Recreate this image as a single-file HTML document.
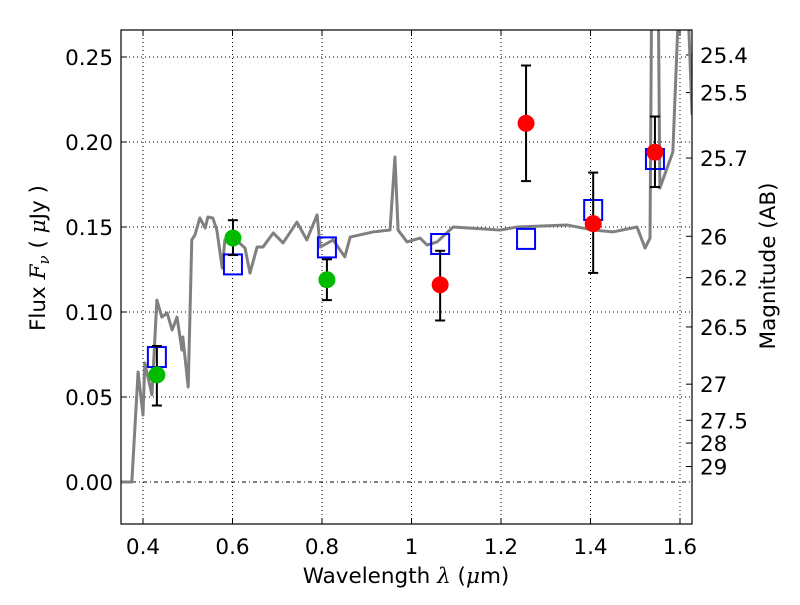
<!DOCTYPE html>
<html><head><meta charset="utf-8"><style>
body{margin:0;background:#fff}
svg text{font-family:"DejaVu Sans","Liberation Sans",sans-serif;fill:#000}
</style></head><body>
<svg id="c" width="800" height="600"></svg>
<script>
const specLam=[0.349,0.375,0.389,0.400,0.404,0.420,0.431,0.442,0.454,0.465,0.476,0.487,0.489,0.501,0.509,0.516,0.527,0.539,0.545,0.556,0.565,0.577,0.583,0.601,0.628,0.639,0.655,0.668,0.691,0.713,0.744,0.766,0.789,0.796,0.825,0.851,0.863,0.914,0.952,0.963,0.970,0.990,1.019,1.035,1.057,1.093,1.198,1.236,1.347,1.406,1.450,1.504,1.522,1.533,1.537,1.551,1.555,1.584,1.600,1.615,1.627];
const specFlux=[0,0,0.0647,0.0394,0.070,0.0512,0.107,0.097,0.0994,0.0894,0.097,0.0776,0.0853,0.0559,0.1424,0.1453,0.1553,0.1494,0.1559,0.1553,0.1482,0.1259,0.1424,0.1441,0.1376,0.1229,0.1382,0.1382,0.1465,0.1406,0.1529,0.1424,0.1571,0.1382,0.1424,0.1324,0.1441,0.1471,0.1482,0.1912,0.1482,0.1412,0.1435,0.1394,0.1412,0.15,0.1482,0.15,0.1512,0.1482,0.1471,0.15,0.1376,0.1435,0.30,0.30,0.1729,0.1941,0.30,0.30,0.2159];
const greenLam=[0.431,0.601,0.811];
const greenFlux=[0.063,0.1435,0.119];
const greenHi=[0.080,0.154,0.131];
const greenLo=[0.045,0.1335,0.107];
const redLam=[1.064,1.256,1.406,1.544];
const redFlux=[0.116,0.211,0.152,0.194];
const redHi=[0.136,0.245,0.182,0.215];
const redLo=[0.095,0.177,0.123,0.1735];
const modelLam=[0.431,0.601,0.811,1.064,1.256,1.406,1.544];
const modelFlux=[0.0735,0.128,0.138,0.140,0.143,0.160,0.190];
const xTicks=[0.4,0.6,0.8,1.0,1.2,1.4,1.6];
const xTickLabels=["0.4","0.6","0.8","1","1.2","1.4","1.6"];
const yTicks=[0,0.05,0.10,0.15,0.20,0.25];
const yTickLabels=["0.00","0.05","0.10","0.15","0.20","0.25"];
const magTicks=[25.4,25.5,25.7,26,26.2,26.5,27,27.5,28,29];
const magLabels=["25.4","25.5","25.7","26","26.2","26.5","27","27.5","28","29"];

const L=121,R=692,T=30,B=524;
const X=v=>143+(v-0.4)*447.5;
const Y=v=>482-v*1700;
const svg=document.getElementById('c');
const NS='http://www.w3.org/2000/svg';
function mk(tag,a,parent){const e=document.createElementNS(NS,tag);for(const k in a)e.setAttribute(k,a[k]);(parent||svg).appendChild(e);return e;}
const defs=mk('defs',{});
const cp=mk('clipPath',{id:'clip'},defs);
mk('rect',{x:L,y:T,width:R-L,height:B-T},cp);

xTicks.forEach((t,i)=>{
  const g=mk('line',{x1:X(t),x2:X(t),y1:T,y2:B,stroke:'#000','stroke-width':1,'stroke-dasharray':'1,3'});
  
  
  mk('line',{x1:X(t),x2:X(t),y1:B,y2:B-6,stroke:'#000'});
  mk('line',{x1:X(t),x2:X(t),y1:T,y2:T+6,stroke:'#000'});
  const tx=mk('text',{x:X(t),y:B+30,'text-anchor':'middle','font-size':21.5});
  tx.textContent=xTickLabels[i];
  
  
});
yTicks.forEach((t,i)=>{
  const g=mk('line',{x1:L,x2:R,y1:Y(t),y2:Y(t),stroke:'#000','stroke-width':1,'stroke-dasharray':t===0?'4,3,1,3':'1,3'});
  
  
  mk('line',{x1:L,x2:L+6,y1:Y(t),y2:Y(t),stroke:'#000'});
  const tx=mk('text',{x:L-8,y:Y(t)+8,'text-anchor':'end','font-size':21.5});
  tx.textContent=yTickLabels[i];
  
  
});
magTicks.forEach((m,i)=>{
  const f=Math.pow(10,(23.9-m)/2.5);
  mk('line',{x1:R,x2:R-6,y1:Y(f),y2:Y(f),stroke:'#000'});
  const tx=mk('text',{x:R+8,y:Y(f)+8,'font-size':21.5});
  tx.textContent=magLabels[i];
  
  
});

const g=mk('g',{'clip-path':'url(#clip)'});
const sp=mk('polyline',{points:specLam.map((l,i)=>X(l)+','+Y(specFlux[i])).join(' '),fill:'none',stroke:'#808080','stroke-width':3,'stroke-linejoin':'round'},g);



function err(lam,hi,lo){
  const e=mk('g',{stroke:'#000','stroke-width':2},g);
  
  
  mk('line',{x1:X(lam),x2:X(lam),y1:Y(hi),y2:Y(lo)},e);
  mk('line',{x1:X(lam)-5,x2:X(lam)+5,y1:Y(hi),y2:Y(hi)},e);
  mk('line',{x1:X(lam)-5,x2:X(lam)+5,y1:Y(lo),y2:Y(lo)},e);
}
modelLam.forEach((l,i)=>{
  const r=mk('rect',{x:X(l)-9,y:Y(modelFlux[i])-10,width:18,height:20,fill:'none',stroke:'#0000ff','stroke-width':2},g);
  
  
});
greenLam.forEach((l,i)=>{
  err(l,greenHi[i],greenLo[i]);
  const c=mk('circle',{cx:X(l),cy:Y(greenFlux[i]),r:8.5,fill:'#00bb00'},g);
  
  
});
redLam.forEach((l,i)=>{
  err(l,redHi[i],redLo[i]);
  const c=mk('circle',{cx:X(l),cy:Y(redFlux[i]),r:8.5,fill:'#ff0000'},g);
  
  
});

const fr=mk('rect',{x:L,y:T,width:R-L,height:B-T,fill:'none',stroke:'#000','stroke-width':1.2});


</script>
<svg style="position:absolute;left:0;top:0" width="800" height="600">
<text x="406" y="583" text-anchor="middle" font-size="21.5" style="font-family:'DejaVu Sans',sans-serif">Wavelength  <tspan font-style="italic" font-family="DejaVu Serif">λ</tspan> (<tspan font-style="italic" font-family="DejaVu Serif">μ</tspan>m)</text>
<text transform="translate(45,258) rotate(-90)" text-anchor="middle" font-size="21.5" style="font-family:'DejaVu Sans',sans-serif">Flux  <tspan font-style="italic" font-family="DejaVu Serif">F</tspan><tspan font-style="italic" font-family="DejaVu Serif" font-size="15" dy="4">ν</tspan><tspan dy="-4">  (  </tspan><tspan font-style="italic" font-family="DejaVu Serif">μ</tspan>Jy )</text>
<text transform="translate(775,266) rotate(-90)" text-anchor="middle" font-size="21.5" style="font-family:'DejaVu Sans',sans-serif">Magnitude (AB)</text>
</svg>
</body></html>
